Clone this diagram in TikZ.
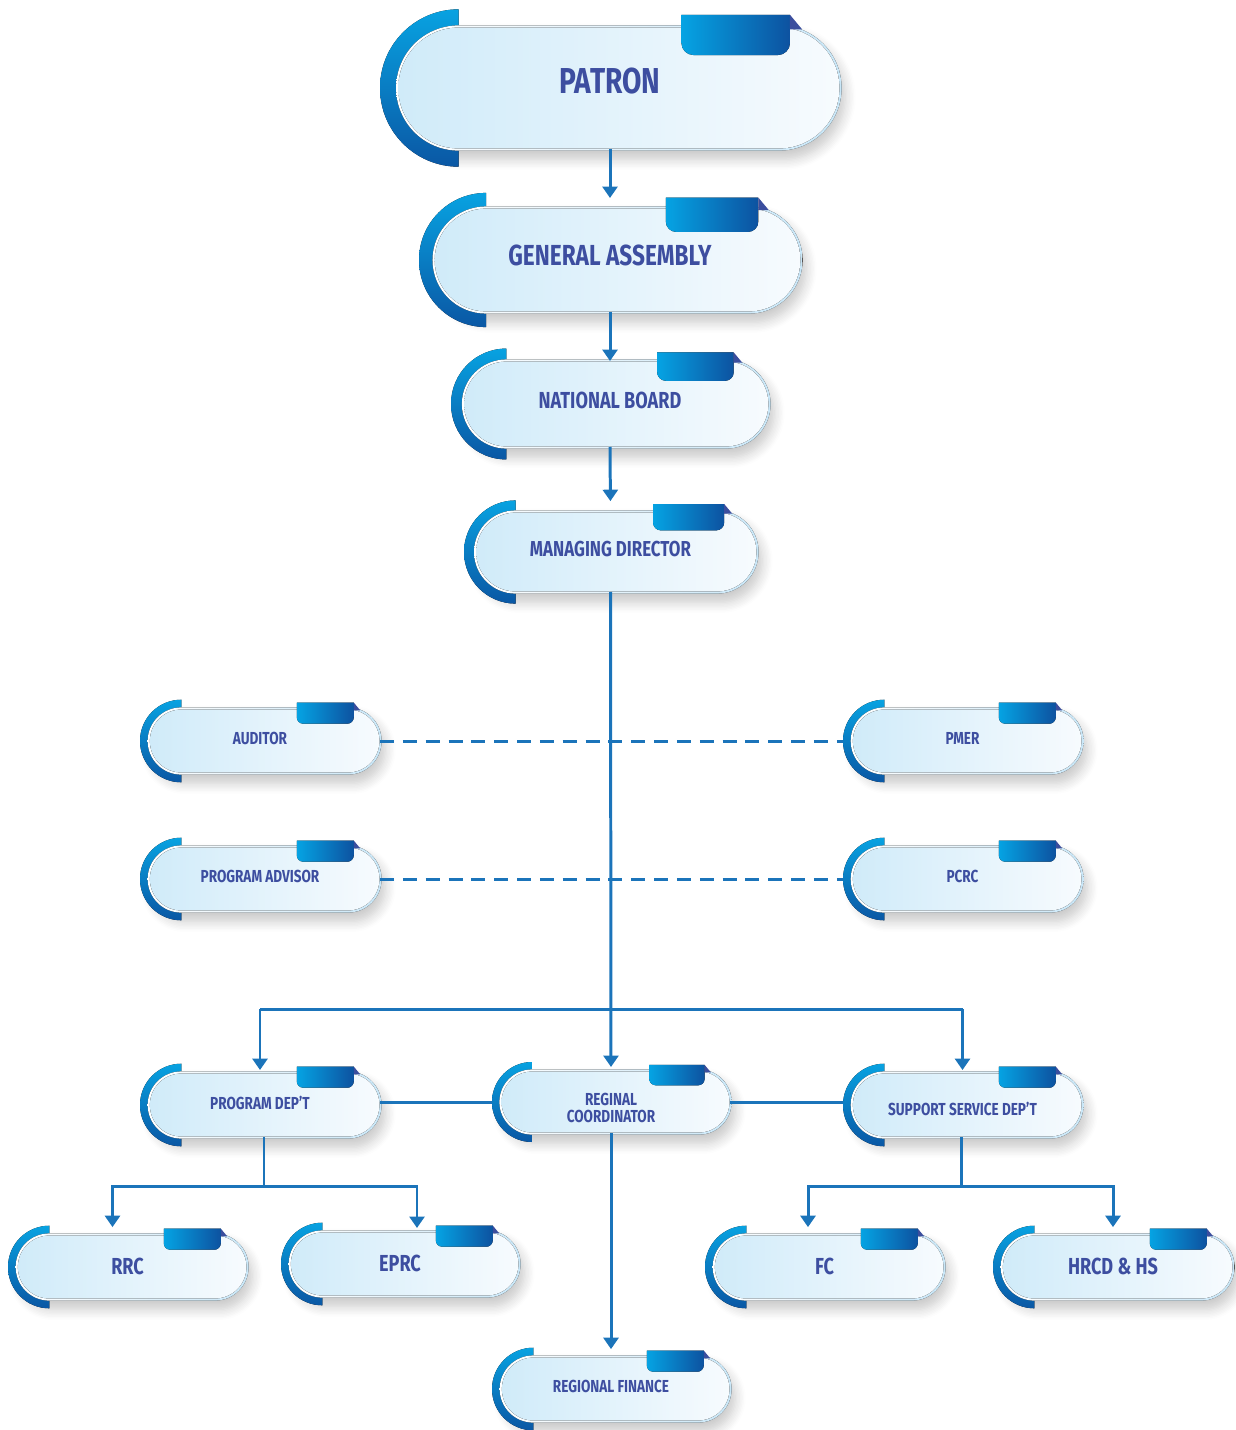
\documentclass[tikz,border=0pt]{standalone}
\usepackage{fontspec}
\setmainfont{Fira Sans}[FakeStretch=0.78]
\usetikzlibrary{arrows.meta,calc,shadows.blur}
\definecolor{txtc}{HTML}{3D4EA0}
\definecolor{linec}{HTML}{1B74BA}
\definecolor{arcA}{HTML}{08A2E1}
\definecolor{arcB}{HTML}{0A57A4}
\definecolor{tabA}{HTML}{05A3E3}
\definecolor{tabB}{HTML}{0D52A0}
\definecolor{pillA}{HTML}{D0EBF9}
\definecolor{pillB}{HTML}{F7FBFE}
\definecolor{bordB}{HTML}{C9E7F8}
\definecolor{triC}{HTML}{3B4E9E}
\newcommand\stadium[4]{(#1,{#3+#4}) -- (#2,{#3+#4}) arc[start angle=90,end angle=-90,radius=#4] -- (#1,{#3-#4}) arc[start angle=270,end angle=90,radius=#4] -- cycle}
\newcommand\orgbox[8]{%
 \pgfmathsetmacro\Orr{#5/2}%
 \pgfmathsetmacro\Ora{1.29*\Orr}%
 \pgfmathsetmacro\Olc{#2+\Ora}%
 \pgfmathsetmacro\Orc{#3-\Orr}%
 \pgfmathsetmacro\Ocy{-#4}%
 \pgfmathsetmacro\Ocx{(#2+#3)/2}%
 \pgfmathsetmacro\Obr{\Orr+1.6}%
 \pgfmathsetmacro\Oir{\Orr-0.6}%
 \pgfmathsetmacro\OtR{#3-0.41*#5}%
 \pgfmathsetmacro\OtL{\OtR-0.89*#5}%
 \pgfmathsetmacro\OtT{\Ocy+\Orr+0.1*#5}%
 \pgfmathsetmacro\OtB{\OtT-0.33*#5}%
 \pgfmathsetmacro\Otr{0.1*#5}%
 \pgfmathsetmacro\OxR{\OtR+0.1*#5}%
 \pgfmathsetmacro\OxB{\OtT-0.12*#5}%
 \pgfmathsetlengthmacro\Onw{(#3-#2)*0.569056}%
 \pgfmathsetlengthmacro\Onh{#5*0.569056}%
 \path[fill=white, blur shadow={shadow xshift=2pt, shadow yshift=-5pt, shadow blur radius=6pt, shadow opacity=22, shadow blur steps=8}] \stadium{\Olc}{\Orc}{\Ocy}{\Obr};
 \fill[top color=arcA, bottom color=arcB] (\Olc,{\Ocy+\Ora}) arc[start angle=90,end angle=270,radius=\Ora] -- cycle;
 \fill[left color=white, right color=bordB] \stadium{\Olc}{\Orc}{\Ocy}{\Obr};
 \fill[left color=pillA, right color=pillB] \stadium{\Olc}{\Orc}{\Ocy}{\Oir};
 \fill[left color=tabA, right color=tabB] (\OtL,\OtT) -- (\OtR,\OtT) -- (\OtR,{\OtB+\Otr}) arc[start angle=0,end angle=-90,radius=\Otr] -- ({\OtL+\Otr},\OtB) arc[start angle=270,end angle=180,radius=\Otr] -- cycle;
 \fill[triC] (\OtR,\OtT) -- (\OxR,\OxB) -- (\OtR,\OxB) -- cycle;
 \node[inner sep=0pt, outer sep=0pt, minimum width=\Onw, minimum height=\Onh] (#1) at (\Ocx,\Ocy) {};
 \node[txtnode, font=\fontsize{#6}{#6}\selectfont\bfseries] (#1-t) at (\Ocx,{\Ocy+#8}) {#7};
}
\tikzset{
 txtnode/.style={text=txtc, inner sep=0pt, align=center},
 conn/.style={draw=linec, line width=1.7pt},
 arr/.style={conn, -{Triangle[length=6.5pt,width=8.5pt]}},
 dconn/.style={conn, dash pattern=on 8pt off 5pt}
}
\begin{document}
\begin{tikzpicture}[x=0.02cm,y=0.02cm]
\useasboundingbox (0,0) rectangle (1235,-1430);
\orgbox{patron}{380}{840}{88}{122}{20.5}{PATRON}{7}
\orgbox{ga}{419}{801}{260}{104}{16.5}{GENERAL ASSEMBLY}{5}
\orgbox{nb}{451}{769}{404}{86}{13.2}{NATIONAL BOARD}{4}
\orgbox{md}{464}{757}{552}{80}{12.3}{MANAGING DIRECTOR}{3}
\orgbox{auditor}{140}{380}{741}{64}{9.9}{AUDITOR}{3}
\orgbox{pmer}{843}{1082}{741}{64}{9.9}{PMER}{3}
\orgbox{padv}{140}{380}{879}{64}{9.9}{PROGRAM ADVISOR}{3}
\orgbox{pcrc}{843}{1082}{879}{64}{9.9}{PCRC}{3}
\orgbox{pdept}{140}{380}{1105}{64}{9.9}{PROGRAM DEP'T}{2}
\orgbox{regc}{492}{730}{1102}{62}{9.9}{REGINAL\\COORDINATOR}{-6}
\orgbox{ssd}{843}{1082}{1105}{64}{9.9}{SUPPORT SERVICE DEP'T}{-4}
\orgbox{rrc}{8}{247}{1267}{64}{13.2}{RRC}{1}
\orgbox{eprc}{281}{519}{1264}{64}{13.2}{EPRC}{1}
\orgbox{fc}{705}{944}{1267}{64}{13.2}{FC}{1}
\orgbox{hrcd}{993}{1233}{1267}{64}{13.2}{HRCD \& HS}{1}
\orgbox{rfin}{492}{730}{1389}{64}{9.9}{REGIONAL FINANCE}{3}
% connectors
\draw[arr, shorten >=5.7pt] (patron.south) -- (ga.north);
\draw[arr] (ga.south) -- (nb.north);
\draw[arr, shorten >=6.2pt] (nb.south) -- (md.north);
\draw[dconn] (auditor.east) -- (pmer.west);
\draw[dconn] (padv.east) -- (pcrc.west);
\coordinate (hb) at (608,-1009);
\draw[conn] (pdept.north |- hb) -- (ssd.north |- hb);
\draw[arr, shorten >=1.7pt] (pdept.north |- hb) -- (pdept.north);
\draw[arr, shorten >=1.7pt] (ssd.north |- hb) -- (ssd.north);
\draw[arr, shorten >=2.3pt] (md.south) -- (regc.north);
\draw[conn] (regc.west) -- (regc.west -| pdept.east);
\draw[conn] (regc.east) -- (regc.east -| ssd.west);
\draw[arr, shorten >=4.5pt] (regc.south) -- (rfin.north);
\coordinate (pb) at ($(pdept.south)+(4,-49)$);
\draw[conn] ($(pdept.south)+(4,0)$) -- (pb);
\draw[arr, shorten >=4.5pt] (pb) -| ($(rrc.north)+(-15,0)$);
\draw[arr, shorten >=2.3pt] (pb) -| ($(eprc.north)+(17,0)$);
\coordinate (sb) at ($(ssd.south)+(-1.5,-49)$);
\draw[conn] ($(ssd.south)+(-1.5,0)$) -- (sb);
\draw[arr, shorten >=4.5pt] (sb) -| ($(fc.north)+(-16.5,0)$);
\draw[arr, shorten >=4.5pt] (sb) -| (hrcd.north);
\end{tikzpicture}
\end{document}
